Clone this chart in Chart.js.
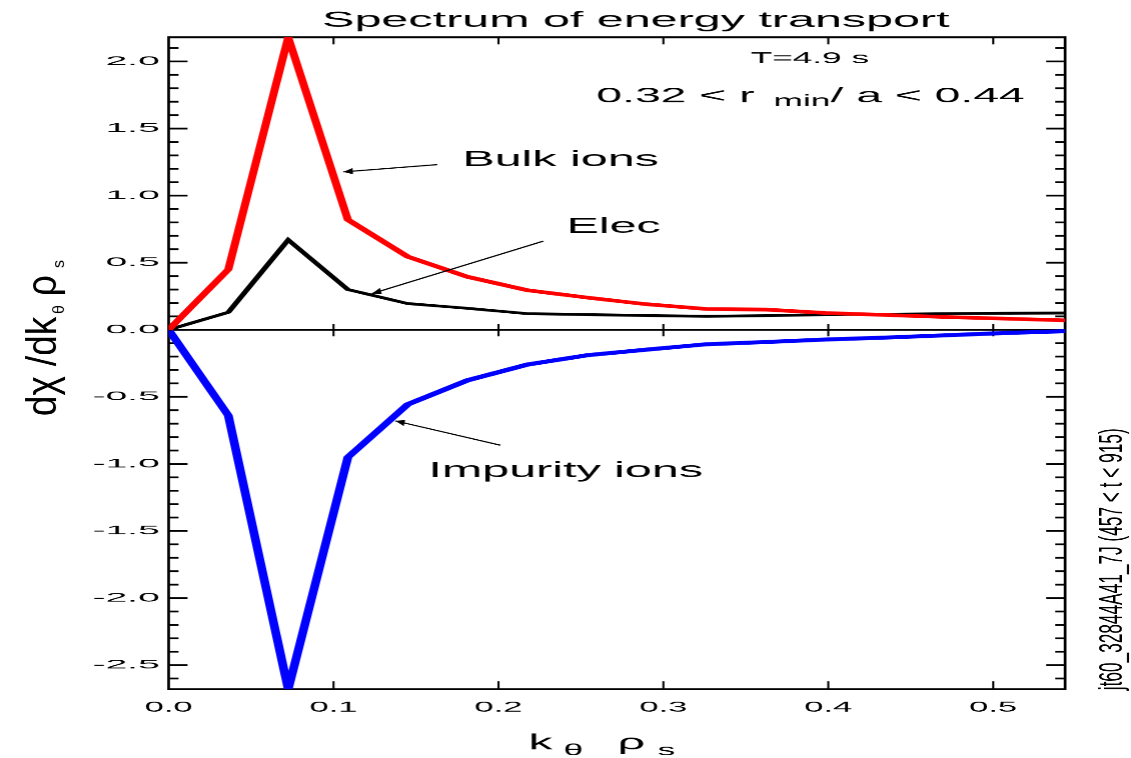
<!DOCTYPE html>
<html>
<head>
<meta charset="utf-8">
<script src="https://cdn.jsdelivr.net/npm/chart.js@4.4.1/dist/chart.umd.min.js"></script>
<style>
  html, body { margin: 0; padding: 0; background: #fff; overflow: hidden; }
  /* the plot is laid out on a narrow canvas and stretched sideways */
  #wrap { position: absolute; left: 0; top: 0; width: 514px; height: 758px;
          transform-origin: 0 0; transform: scaleX(2.2004); }
</style>
</head>
<body>
<div id="wrap"><canvas id="c"></canvas></div>
<script>
// k_theta * rho_s sample points
const kRho = [0, 0.0362, 0.0725, 0.1087, 0.1450, 0.1812, 0.2174, 0.2537,
              0.2899, 0.3262, 0.3624, 0.3986, 0.4349, 0.4711, 0.5074, 0.5436];
// d chi / d(k_theta rho_s) spectra
const bulkIons     = [0, 0.45, 2.18, 0.82, 0.545, 0.395, 0.295, 0.240,
                      0.190, 0.155, 0.150, 0.125, 0.110, 0.095, 0.083, 0.070];
const electrons    = [0, 0.13, 0.67, 0.30, 0.195, 0.160, 0.120, 0.113,
                      0.106, 0.100, 0.105, 0.113, 0.115, 0.120, 0.123, 0.125];
const impurityIons = [0, -0.64, -2.68, -0.95, -0.556, -0.377, -0.260, -0.190,
                      -0.148, -0.108, -0.091, -0.073, -0.058, -0.041, -0.024, -0.011];
// axis ticks
const xTicks = [0.0, 0.1, 0.2, 0.3, 0.4, 0.5];
const yTicks = [-2.5, -2.0, -1.5, -1.0, -0.5, 0.0, 0.5, 1.0, 1.5, 2.0];

const SX = 1131 / 514;
const FONT = '"Liberation Sans", Arial, Helvetica, sans-serif';

function txt(ctx, str, x, y, size, o = {}) {
  ctx.save();
  ctx.translate(x, y);
  if (o.rotate) ctx.rotate(o.rotate);
  ctx.scale(o.sx || 1, o.sy || 1);
  ctx.font = size + 'px ' + FONT;
  ctx.textAlign = o.align || 'left';
  ctx.textBaseline = o.baseline || 'alphabetic';
  ctx.fillStyle = '#000';
  ctx.fillText(str, 0, 0);
  ctx.restore();
}
function seg(ctx, x1, y1, x2, y2) {
  ctx.beginPath(); ctx.moveTo(x1, y1); ctx.lineTo(x2, y2); ctx.stroke();
}
function arrow(ctx, x1, y1, x2, y2) {
  ctx.lineWidth = 1.1;
  seg(ctx, x1, y1, x2, y2);
  const ang = Math.atan2(y2 - y1, (x2 - x1) * SX);
  const L = 10, w = 0.32;
  ctx.beginPath();
  ctx.moveTo(x2, y2);
  ctx.lineTo(x2 + Math.cos(ang + Math.PI - w) * L / SX, y2 + Math.sin(ang + Math.PI - w) * L);
  ctx.lineTo(x2 + Math.cos(ang + Math.PI + w) * L / SX, y2 + Math.sin(ang + Math.PI + w) * L);
  ctx.closePath();
  ctx.fill();
}

// box, inward ticks, zero axis
const frame = {
  id: 'frame',
  beforeDatasetsDraw(chart) {
    const { ctx, chartArea: a, scales: { x, y } } = chart;
    const y0 = y.getPixelForValue(0);
    ctx.save();
    ctx.strokeStyle = '#000';
    ctx.lineCap = 'butt';
    ctx.lineWidth = 1.25;
    seg(ctx, a.left, a.top - 1, a.left, a.bottom + 1);
    seg(ctx, a.right, a.top - 1, a.right, a.bottom + 1);
    ctx.lineWidth = 2;
    seg(ctx, a.left, a.top, a.right, a.top);
    seg(ctx, a.left, a.bottom, a.right, a.bottom);
    seg(ctx, a.left, y0, a.right, y0);

    // y ticks on both sides
    ctx.lineWidth = 1.8;
    const major = 8.6, minor = 4.5;
    for (let i = Math.ceil(y.min * 10 - 1e-6); i <= Math.floor(y.max * 10 + 1e-6); i++) {
      const isMajor = i % 5 === 0;
      const py = y.getPixelForValue(i / 10);
      const len = isMajor ? major : minor;
      seg(ctx, a.left, py, a.left + len, py);
      seg(ctx, a.right, py, a.right - len, py);
    }
    // x ticks: top, bottom, and across the zero axis
    ctx.lineWidth = 0.95;
    xTicks.forEach(v => {
      if (v === 0) return;
      const px = x.getPixelForValue(v);
      seg(ctx, px, a.top, px, a.top + 7);
      seg(ctx, px, a.bottom, px, a.bottom - 8);
      seg(ctx, px, y0 - 6, px, y0 + 6.5);
    });
    ctx.restore();
  },
  afterDatasetsDraw(chart) {
    const { ctx, chartArea: a, scales: { x, y } } = chart;
    const X = v => x.getPixelForValue(v), Y = v => y.getPixelForValue(v);
    ctx.save();
    ctx.fillStyle = '#000';
    ctx.strokeStyle = '#000';

    // tick labels
    yTicks.forEach(v => txt(ctx, v.toFixed(1), a.left - 4.0, Y(v), 12.5,
                            { align: 'right', baseline: 'middle', sx: 1.42 }));
    xTicks.forEach(v => txt(ctx, v.toFixed(1), X(v), 711.5, 14,
                            { align: 'center', sx: 1.12 }));

    // title
    txt(ctx, 'Spectrum of energy transport', 146.3, 27, 22);

    // x axis title: k_theta rho_s
    txt(ctx, 'k', 240, 749, 22);
    txt(ctx, 'θ', 255.9, 755, 16);
    txt(ctx, 'ρ', 280.4, 749, 22);
    txt(ctx, 's', 298.6, 755, 16);

    // y axis title (reads upward)
    ctx.save();
    ctx.translate(25.6, 416);
    ctx.rotate(-Math.PI / 2);
    txt(ctx, 'dχ', 0, 0, 19, { sx: 1.95 });
    txt(ctx, '/dk', 50, 0, 19, { sx: 1.95 });
    txt(ctx, 'θ', 102, 3.4, 9, { sx: 1.8, sy: 0.8 });
    txt(ctx, 'ρ', 120, 0, 19, { sx: 1.95 });
    txt(ctx, 's', 148, 3.4, 9, { sx: 1.8, sy: 0.8 });
    ctx.restore();

    // run identifier on the right edge
    txt(ctx, 'jt60_32844A41_7J (457 < t < 915)', 509.5, 690, 15,
        { rotate: -Math.PI / 2, sx: 1.15 });

    // time and radius window
    txt(ctx, 'T=4.9 s', X(0.3529), Y(1.986), 16);
    txt(ctx, '0.32 < r', X(0.2594), Y(1.695), 21);
    txt(ctx, 'min', X(0.3668), Y(1.667), 16);
    txt(ctx, '/ a < 0.44', X(0.4014), Y(1.695), 21);

    // series labels with pointers
    txt(ctx, 'Bulk ions', X(0.1781), Y(1.220), 22);
    arrow(ctx, X(0.1629), Y(1.231), X(0.1059), Y(1.177));
    txt(ctx, 'Elec', X(0.2412), Y(0.723), 22);
    arrow(ctx, X(0.2272), Y(0.661), X(0.1232), Y(0.269));
    txt(ctx, 'Impurity ions', X(0.1575), Y(-1.097), 22);
    arrow(ctx, X(0.2012), Y(-0.861), X(0.1374), Y(-0.679));
    ctx.restore();
  }
};

const pts = arr => kRho.map((k, i) => ({ x: k, y: arr[i] }));

new Chart(document.getElementById('c'), {
  type: 'line',
  data: {
    datasets: [
      { label: 'Bulk ions', data: pts(bulkIons), borderColor: '#ff0000', borderWidth: 3.7 },
      { label: 'Elec', data: pts(electrons), borderColor: '#000000', borderWidth: 2.8 },
      { label: 'Impurity ions', data: pts(impurityIons), borderColor: '#0000ff', borderWidth: 4.0 }
    ]
  },
  options: {
    responsive: true,
    maintainAspectRatio: false,
    animation: false,
    devicePixelRatio: 2.2,
    layout: { padding: { left: 76.58, right: 30.31, top: 37.3, bottom: 69 } },
    elements: { point: { radius: 0 }, line: { tension: 0, fill: false } },
    plugins: { legend: { display: false }, tooltip: { enabled: false }, title: { display: false } },
    scales: {
      x: { type: 'linear', display: false, min: 0, max: kRho[kRho.length - 1] },
      y: { type: 'linear', display: false,
           min: Math.min(...impurityIons), max: Math.max(...bulkIons) }
    }
  },
  plugins: [frame]
});
</script>
</body>
</html>
